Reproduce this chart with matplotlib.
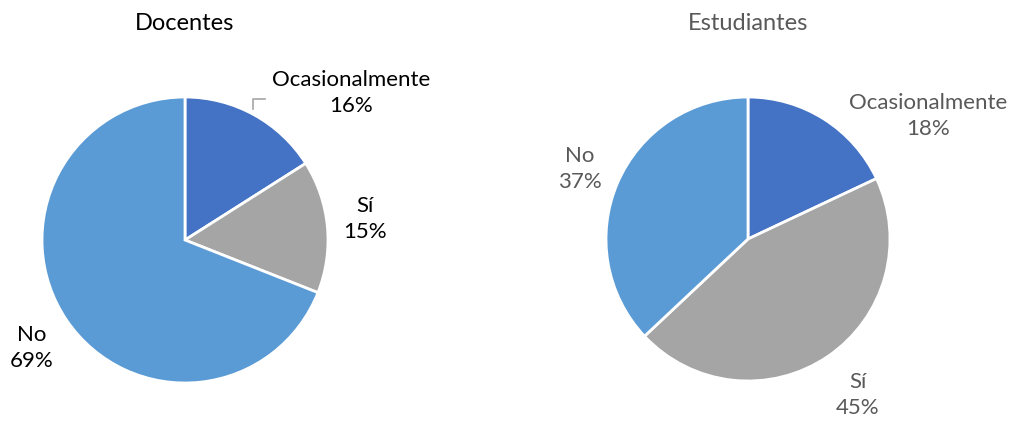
import matplotlib.pyplot as plt
from matplotlib.lines import Line2D

plt.rcParams['font.family'] = ['Lato', 'DejaVu Sans']

categorias = ['Ocasionalmente', 'Sí', 'No']
docentes = [16, 15, 69]
estudiantes = [18, 45, 37]
colores = ['#4472C4', '#A5A5A5', '#5B9BD5']

W, H = 1013, 422
fig = plt.figure(figsize=(W / 100, H / 100), dpi=100)

def px(x, y):
    return x / W, 1 - y / H

def pie_axes(cx, cy, r):
    ax = fig.add_axes([(cx - r) / W, 1 - (cy + r) / H, 2 * r / W, 2 * r / H])
    ax.axis('off')
    return ax

# Docentes
ax1 = pie_axes(185, 240, 143)
ax1.pie(docentes, colors=colores, startangle=90, counterclock=False, radius=1,
        wedgeprops=dict(edgecolor='white', linewidth=2))
ax1.set_xlim(-1, 1)
ax1.set_ylim(-1, 1)
fig.text(*px(185, 24), 'Docentes', ha='center', va='center', fontsize=17, color='black')
pos1 = [(351, 93), (365, 219), (32, 348)]
for cat, v, (x, y) in zip(categorias, docentes, pos1):
    fig.text(*px(x, y), f'{cat}\n{v}%', ha='center', va='center', fontsize=16,
             color='black', linespacing=1.4)
x0, y0 = px(253, 109)
x1, y1 = px(253, 99)
x2, y2 = px(265, 99)
fig.add_artist(Line2D([x0, x1, x2], [y0, y1, y2], color='#A6A6A6', lw=1.2,
                      transform=fig.transFigure))

# Estudiantes
ax2 = pie_axes(748, 239, 142)
ax2.pie(estudiantes, colors=colores, startangle=90, counterclock=False, radius=1,
        wedgeprops=dict(edgecolor='white', linewidth=2))
ax2.set_xlim(-1, 1)
ax2.set_ylim(-1, 1)
fig.text(*px(748, 24), 'Estudiantes', ha='center', va='center', fontsize=17, color='#595959')
pos2 = [(928, 116), (858, 395), (580, 169)]
for cat, v, (x, y) in zip(categorias, estudiantes, pos2):
    fig.text(*px(x, y), f'{cat}\n{v}%', ha='center', va='center', fontsize=16,
             color='#595959', linespacing=1.4)

fig.savefig('out.png', dpi=100)
